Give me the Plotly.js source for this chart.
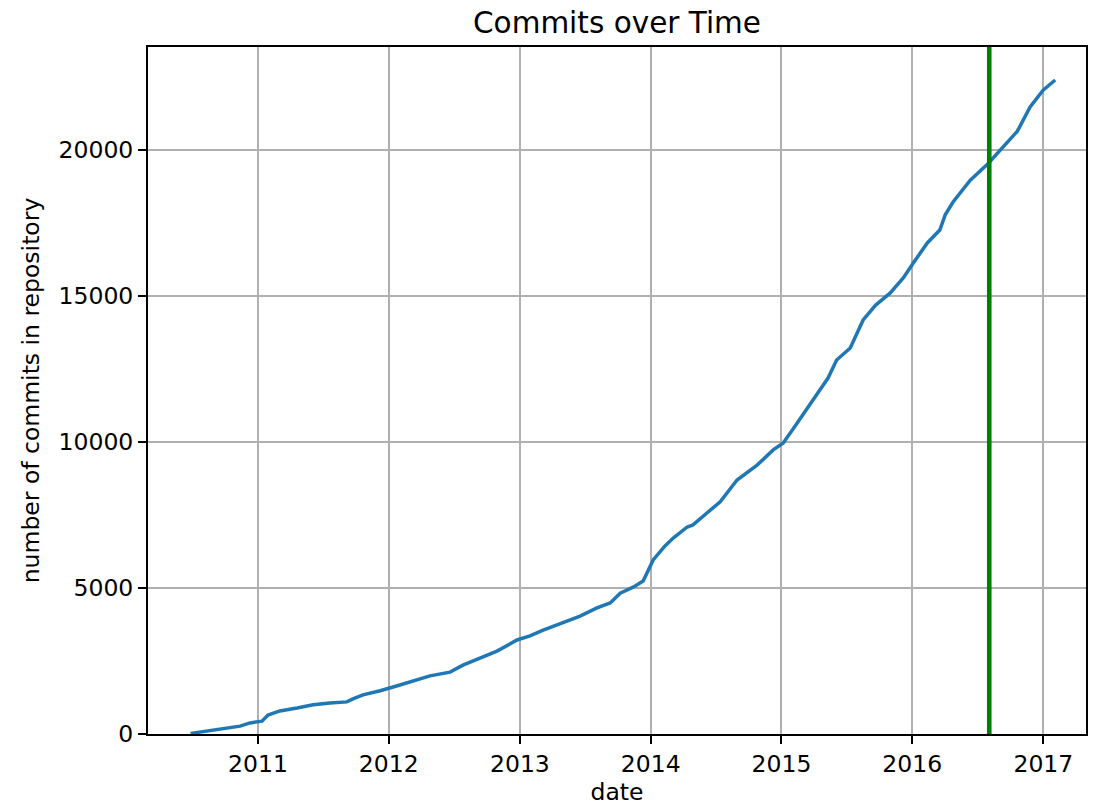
<!DOCTYPE html>
<html>
<head>
<meta charset="utf-8">
<script src="https://cdn.plot.ly/plotly-3.0.1.min.js"></script>
<style>
  html, body { margin: 0; padding: 0; background: #ffffff; }
  #chart { width: 1104px; height: 806px; }
</style>
</head>
<body>
<div id="chart"></div>
<script>
// Cumulative commit count of the repository, sampled along its history
const commitDates = [
  '2010-06-27', '2010-08-28', '2010-10-15', '2010-11-12', '2010-12-10',
  '2011-01-12', '2011-01-29', '2011-03-03', '2011-04-20', '2011-06-04',
  '2011-07-21', '2011-09-06', '2011-09-23', '2011-10-21', '2011-12-08',
  '2012-01-04', '2012-02-01', '2012-04-25', '2012-06-20', '2012-07-26',
  '2012-09-12', '2012-10-29', '2012-12-24', '2013-01-29', '2013-03-07',
  '2013-05-01', '2013-06-18', '2013-08-04', '2013-09-10', '2013-10-08',
  '2013-11-13', '2013-12-11', '2013-12-22', '2014-01-08', '2014-02-10',
  '2014-03-05', '2014-04-13', '2014-04-29', '2014-06-07', '2014-07-14',
  '2014-08-30', '2014-10-25', '2014-12-09', '2015-01-06', '2015-02-14',
  '2015-03-30', '2015-05-11', '2015-06-04', '2015-07-12', '2015-08-17',
  '2015-09-21', '2015-10-31', '2015-12-07', '2016-01-04', '2016-02-12',
  '2016-03-18', '2016-04-02', '2016-04-24', '2016-06-11', '2016-07-31',
  '2016-09-08', '2016-10-20', '2016-11-25', '2017-01-01', '2017-02-03'
];
const commitCounts = [
  20, 120, 200, 270, 380,
  440, 650, 790, 890, 1000,
  1060, 1100, 1200, 1340, 1480,
  1570, 1680, 1990, 2120, 2360,
  2600, 2840, 3220, 3360, 3560,
  3800, 4040, 4320, 4490, 4820,
  5030, 5240, 5510, 5960, 6440,
  6710, 7090, 7160, 7570, 7950,
  8700, 9210, 9730, 9970, 10650,
  11440, 12190, 12810, 13220, 14180,
  14690, 15100, 15620, 16130, 16820,
  17260, 17780, 18220, 18970, 19540,
  20070, 20640, 21480, 22060, 22400
];

// Date highlighted with a vertical marker line
const markerDate = '2016-08-03';

// Axis ranges and ticks
const xRange = ['2010-02-28', '2017-04-30'];
const yRange = [0, 23530];
const yTicks = [0, 5000, 10000, 15000, 20000];

const fontFamily = 'DejaVu Sans, sans-serif';

const trace = {
  x: commitDates,
  y: commitCounts,
  type: 'scatter',
  mode: 'lines',
  line: { color: '#1f77b4', width: 3.5 },
  hoverinfo: 'skip'
};

const layout = {
  width: 1104,
  height: 806,
  margin: { l: 148, r: 18, t: 47, b: 72 },
  paper_bgcolor: '#ffffff',
  plot_bgcolor: '#ffffff',
  showlegend: false,
  font: { family: fontFamily, color: '#000000', size: 23.5 },
  title: {
    text: 'Commits over Time',
    font: { family: fontFamily, size: 29.5, color: '#000000' },
    x: 0.5, xref: 'paper', xanchor: 'center',
    y: 1, yref: 'paper', yanchor: 'bottom',
    pad: { b: 14 }
  },
  xaxis: {
    type: 'date',
    range: xRange,
    tick0: '2011-01-01',
    dtick: 'M12',
    tickformat: '%Y',
    ticks: 'outside',
    ticklen: 8,
    tickwidth: 2,
    tickcolor: '#000000',
    tickfont: { family: fontFamily, size: 23.5, color: '#000000' },
    showgrid: true,
    gridcolor: '#b0b0b0',
    gridwidth: 2,
    showline: true,
    linecolor: '#000000',
    linewidth: 2,
    mirror: true,
    zeroline: false,
    title: {
      text: 'date',
      font: { family: fontFamily, size: 23.5, color: '#000000' },
      standoff: 11
    }
  },
  yaxis: {
    range: yRange,
    tickvals: yTicks,
    tickformat: 'd',
    ticks: 'outside',
    ticklen: 8,
    tickwidth: 2,
    tickcolor: '#000000',
    tickfont: { family: fontFamily, size: 23.5, color: '#000000' },
    showgrid: true,
    gridcolor: '#b0b0b0',
    gridwidth: 2,
    showline: true,
    linecolor: '#000000',
    linewidth: 2,
    mirror: true,
    zeroline: false,
    title: {
      text: 'number of commits in repository',
      font: { family: fontFamily, size: 23.5, color: '#000000' },
      standoff: 12
    }
  },
  shapes: [{
    type: 'line',
    xref: 'x', yref: 'paper',
    x0: markerDate, x1: markerDate,
    y0: 0, y1: 1,
    line: { color: '#008000', width: 4.6 },
    layer: 'above'
  }]
};

Plotly.newPlot('chart', [trace], layout, { staticPlot: true, displayModeBar: false });
</script>
</body>
</html>
